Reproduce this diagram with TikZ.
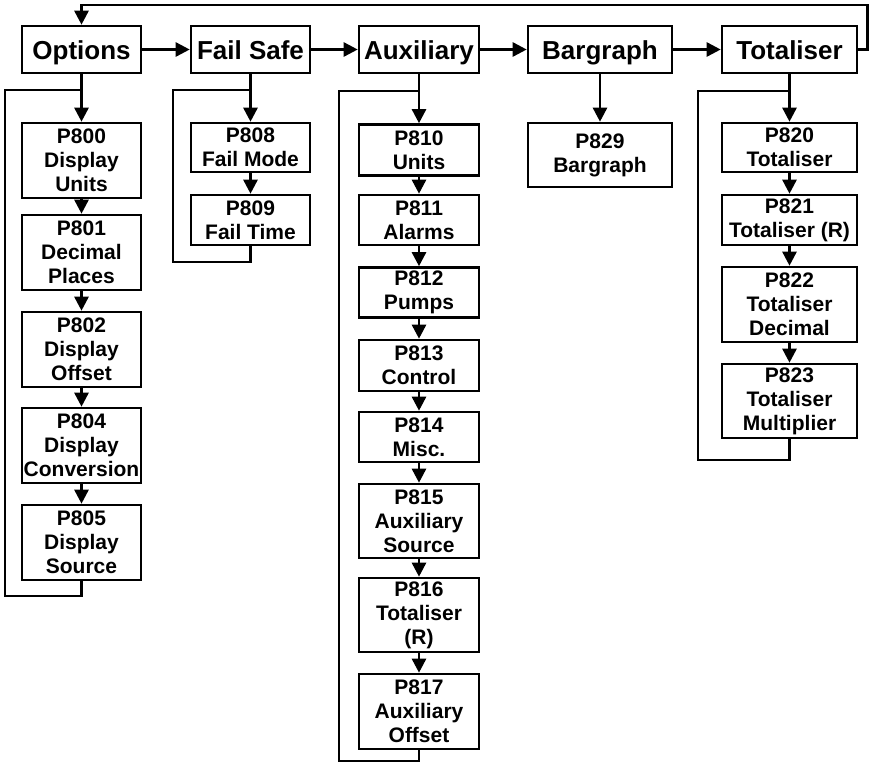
\documentclass[tikz,border=0pt]{standalone}
\usepackage{fontspec}
\setmainfont{Liberation Sans}
\usetikzlibrary{arrows.meta}
\begin{document}
\begin{tikzpicture}[x=1pt,y=-1pt,
  box/.style={draw, line width=2.6pt, align=center, inner sep=0pt},
  mainbox/.style={box, font=\fontsize{26}{30}\selectfont\bfseries, minimum height=47pt, text height=19pt, text depth=0pt},
  parambox/.style={box, font=\fontsize{21}{24}\selectfont\bfseries},
  link/.style={line width=2.6pt, -{Triangle[length=14pt,width=14pt]}},
  wire/.style={line width=2.6pt}]
\useasboundingbox (0,0) rectangle (870,772);

% main row
\node[mainbox, minimum width=119pt] (opt) at (81.5,49.5) {Options};
\node[mainbox, minimum width=119pt] (fs)  at (250.5,49.5) {Fail Safe};
\node[mainbox, minimum width=120pt] (aux) at (419,49.5) {Auxiliary};
\node[mainbox, minimum width=144pt] (bar) at (600,49.5) {Bargraph};
\node[mainbox, minimum width=135pt] (tot) at (789.5,49.5) {Totaliser};

% options column
\node[parambox, minimum width=119pt, minimum height=75pt] (p800) at (81.5,160.5) {P800\\Display\\Units};
\node[parambox, minimum width=119pt, minimum height=75pt] (p801) at (81.5,252.5) {P801\\Decimal\\Places};
\node[parambox, minimum width=119pt, minimum height=75pt] (p802) at (81.5,349.5) {P802\\Display\\Offset};
\node[parambox, minimum width=119pt, minimum height=75pt] (p804) at (81.5,445.5) {P804\\Display\\Conversion};
\node[parambox, minimum width=119pt, minimum height=75pt] (p805) at (81.5,542.5) {P805\\Display\\Source};

% fail safe column
\node[parambox, minimum width=119pt, minimum height=49pt] (p808) at (250.5,147.5) {P808\\Fail Mode};
\node[parambox, minimum width=119pt, minimum height=50pt] (p809) at (250.5,220) {P809\\Fail Time};

% auxiliary column
\node[parambox, minimum width=120pt, minimum height=51pt] (p810) at (419,150) {P810\\Units};
\node[parambox, minimum width=120pt, minimum height=50pt] (p811) at (419,220) {P811\\Alarms};
\node[parambox, minimum width=120pt, minimum height=50pt] (p812) at (419,292.5) {P812\\Pumps};
\node[parambox, minimum width=120pt, minimum height=51pt] (p813) at (419,365.5) {P813\\Control};
\node[parambox, minimum width=120pt, minimum height=50pt] (p814) at (419,437) {P814\\Misc.};
\node[parambox, minimum width=120pt, minimum height=74pt] (p815) at (419,521) {P815\\Auxiliary\\Source};
\node[parambox, minimum width=120pt, minimum height=74pt] (p816) at (419,615) {P816\\Totaliser\\(R)};
\node[parambox, minimum width=120pt, minimum height=75pt] (p817) at (419,711.5) {P817\\Auxiliary\\Offset};

% bargraph column
\node[parambox, minimum width=144pt, minimum height=64pt] (p829) at (600,155) {P829\\Bargraph};

% totaliser column
\node[parambox, minimum width=135pt, minimum height=49pt] (p820) at (789.5,147.5) {P820\\Totaliser};
\node[parambox, minimum width=135pt, minimum height=50pt] (p821) at (789.5,220) {P821\\Totaliser (R)};
\node[parambox, minimum width=135pt, minimum height=75pt] (p822) at (789.5,304.5) {P822\\Totaliser\\Decimal};
\node[parambox, minimum width=135pt, minimum height=74pt] (p823) at (789.5,401) {P823\\Totaliser\\Multiplier};

% main row arrows
\draw[link] (opt) -- (fs);
\draw[link] (fs) -- (aux);
\draw[link] (aux) -- (bar);
\draw[link] (bar) -- (tot);
\coordinate (rt) at (867.5,5);
\coordinate (lt) at (81.5,5);
\draw[link] (tot.east) -| (rt) -- (lt) -- (opt.north);

% options chain
\draw[link] (opt) -- (p800);
\draw[link] (p800) -- (p801);
\draw[link] (p801) -- (p802);
\draw[link] (p802) -- (p804);
\draw[link] (p804) -- (p805);
\coordinate (obl) at (5,596);
\coordinate (otl) at (5,90);
\draw[wire] (p805.south) |- (obl) -- (otl) -- (otl -| opt.south);

% fail safe chain
\draw[link] (fs) -- (p808);
\draw[link] (p808) -- (p809);
\coordinate (fbl) at (173,262);
\coordinate (ftl) at (173,90);
\draw[wire] (p809.south) |- (fbl) -- (ftl) -- (ftl -| fs.south);

% auxiliary chain
\draw[link] (aux) -- (p810);
\draw[link] (p810) -- (p811);
\draw[link] (p811) -- (p812);
\draw[link] (p812) -- (p813);
\draw[link] (p813) -- (p814);
\draw[link] (p814) -- (p815);
\draw[link] (p815) -- (p816);
\draw[link] (p816) -- (p817);
\coordinate (abl) at (339,761);
\coordinate (atl) at (339,91);
\draw[wire] (p817.south) |- (abl) -- (atl) -- (atl -| aux.south);

% bargraph
\draw[link] (bar) -- (p829);

% totaliser chain
\draw[link] (tot) -- (p820);
\draw[link] (p820) -- (p821);
\draw[link] (p821) -- (p822);
\draw[link] (p822) -- (p823);
\coordinate (tbl) at (698,460);
\coordinate (ttl) at (698,91);
\draw[wire] (p823.south) |- (tbl) -- (ttl) -- (ttl -| tot.south);
\end{tikzpicture}
\end{document}
